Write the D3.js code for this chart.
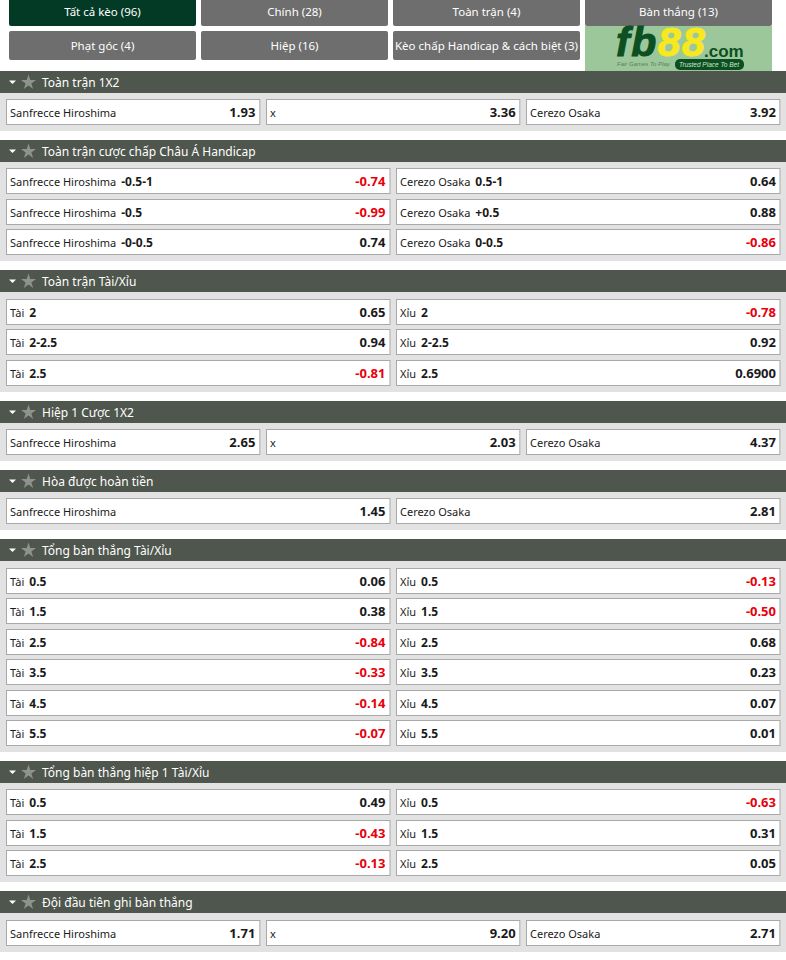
<!DOCTYPE html>
<html>
<head>
<meta charset="utf-8">
<script src="https://cdn.jsdelivr.net/npm/d3@7"></script>
<style>
  body { margin: 0; background: #fff; }
  svg { display: block; }
  text { font-family: "Noto Sans", sans-serif; }
  .logo-text { font-family: "Liberation Sans", sans-serif; }
</style>
</head>
<body>
<script>
const width = 786;
const height = 960;

// Tab buttons
const tabLabels = [
  "Tất cả kèo (96)", "Chính (28)", "Toàn trận (4)", "Bàn thắng (13)",
  "Phạt góc (4)", "Hiệp (16)", "Kèo chấp Handicap & cách biệt (3)"
];

// Section titles and number of columns
const sectionTitles = [
  "Toàn trận 1X2", "Toàn trận cược chấp Châu Á Handicap", "Toàn trận Tài/Xỉu",
  "Hiệp 1 Cược 1X2", "Hòa được hoàn tiền", "Tổng bàn thắng Tài/Xỉu",
  "Tổng bàn thắng hiệp 1 Tài/Xỉu", "Đội đầu tiên ghi bàn thắng"
];
const sectionColumns = [3, 2, 2, 3, 2, 2, 2, 3];

// Team names and over/under labels
const home = "Sanfrecce Hiroshima";
const away = "Cerezo Osaka";
const over = "Tài";
const under = "Xỉu";

// Each cell is [name, line, odds], read row by row
const fullTime1x2 = [[home, "", "1.93"], ["x", "", "3.36"], [away, "", "3.92"]];
const asianHandicap = [
  [home, "-0.5-1", "-0.74"], [away, "0.5-1", "0.64"],
  [home, "-0.5", "-0.99"], [away, "+0.5", "0.88"],
  [home, "-0-0.5", "0.74"], [away, "0-0.5", "-0.86"]
];
const fullTimeOverUnder = [
  [over, "2", "0.65"], [under, "2", "-0.78"],
  [over, "2-2.5", "0.94"], [under, "2-2.5", "0.92"],
  [over, "2.5", "-0.81"], [under, "2.5", "0.6900"]
];
const half1x2 = [[home, "", "2.65"], ["x", "", "2.03"], [away, "", "4.37"]];
const drawNoBet = [[home, "", "1.45"], [away, "", "2.81"]];
const totalGoals = [
  [over, "0.5", "0.06"], [under, "0.5", "-0.13"],
  [over, "1.5", "0.38"], [under, "1.5", "-0.50"],
  [over, "2.5", "-0.84"], [under, "2.5", "0.68"],
  [over, "3.5", "-0.33"], [under, "3.5", "0.23"],
  [over, "4.5", "-0.14"], [under, "4.5", "0.07"],
  [over, "5.5", "-0.07"], [under, "5.5", "0.01"]
];
const totalGoalsHalf = [
  [over, "0.5", "0.49"], [under, "0.5", "-0.63"],
  [over, "1.5", "-0.43"], [under, "1.5", "0.31"],
  [over, "2.5", "-0.13"], [under, "2.5", "0.05"]
];
const firstToScore = [[home, "", "1.71"], ["x", "", "9.20"], [away, "", "2.71"]];

const sectionCells = [
  fullTime1x2, asianHandicap, fullTimeOverUnder, half1x2,
  drawNoBet, totalGoals, totalGoalsHalf, firstToScore
];

const svg = d3.select("body").append("svg")
  .attr("width", width)
  .attr("height", height);

// Tabs
const tabX = d3.scaleBand().domain(d3.range(4)).range([9, 772]).paddingInner(5 / 192);
const tabY = d3.scaleOrdinal().domain([0, 1]).range([-4, 31]);
const tabH = d3.scaleOrdinal().domain([0, 1]).range([30, 29]);

const tabs = svg.selectAll("g.tab").data(tabLabels).join("g").attr("class", "tab");
tabs.append("rect")
  .attr("x", (d, i) => tabX(i % 4))
  .attr("y", (d, i) => tabY(Math.floor(i / 4)))
  .attr("width", tabX.bandwidth())
  .attr("height", (d, i) => tabH(Math.floor(i / 4)))
  .attr("rx", 2)
  .attr("fill", (d, i) => i === 0 ? "#033a25" : "#6e6e6e");
tabs.append("text")
  .attr("x", (d, i) => tabX(i % 4) + tabX.bandwidth() / 2)
  .attr("y", (d, i) => i < 4 ? 16 : 50)
  .attr("text-anchor", "middle")
  .attr("font-size", 11.5)
  .attr("fill", "#fff")
  .text(d => d);

// Logo in the last tab slot
const logo = svg.append("g").attr("transform", "translate(" + tabX(3) + ",26)");
logo.append("rect").attr("width", tabX.bandwidth()).attr("height", 45).attr("fill", "#9cc79a");
const logoText = logo.append("text")
  .attr("class", "logo-text")
  .attr("x", 31).attr("y", 30)
  .attr("font-weight", "bold")
  .attr("font-style", "italic")
  .attr("font-size", 41)
  .attr("letter-spacing", 1.5)
  .attr("stroke-width", 1);
logoText.append("tspan").attr("fill", "#0b4f22").attr("stroke", "#0b4f22").text("fb");
logoText.append("tspan").attr("fill", "#f7e81f").attr("stroke", "#f7e81f").text("88");
logo.append("text")
  .attr("class", "logo-text")
  .attr("x", 119).attr("y", 31)
  .attr("font-weight", "bold")
  .attr("font-size", 17)
  .attr("fill", "#0b4f22")
  .text(".com");
logo.append("text")
  .attr("class", "logo-text")
  .attr("x", 32).attr("y", 40)
  .attr("font-size", 6)
  .attr("font-style", "italic")
  .attr("fill", "#5d7f5d")
  .text("Fair Games To Play");
logo.append("rect")
  .attr("x", 90).attr("y", 33)
  .attr("width", 69).attr("height", 11)
  .attr("rx", 5)
  .attr("fill", "#0b4f22");
logo.append("text")
  .attr("class", "logo-text")
  .attr("x", 124).attr("y", 41)
  .attr("text-anchor", "middle")
  .attr("font-size", 6.5)
  .attr("font-style", "italic")
  .attr("fill", "#cfe6c8")
  .text("Trusted Place To Bet");

// Vertical layout of the sections
const rowStep = d3.scaleLinear().domain([0, 1]).range([0, 30.5]);
const headerH = 22;
const cellH = 26;
const star = d3.symbol().type(d3.symbolStar).size(70);

let sectionTop = 71;
sectionTitles.forEach((title, s) => {
  const cols = sectionColumns[s];
  const cells = sectionCells[s];
  const rows = cells.length / cols;
  const headerTop = Math.round(sectionTop - 0.2);
  const g = svg.append("g").attr("transform", "translate(0," + headerTop + ")");

  // Row position inside the section, snapped to whole pixels
  const rowY = r => Math.round(sectionTop + headerH + 6 + rowStep(r)) - headerTop;

  const colX = d3.scaleBand().domain(d3.range(cols)).range([6, 781])
    .paddingInner(cols === 3 ? 6 / 260 : 6 / 388);

  // Grey background and the header bar
  g.append("rect")
    .attr("y", headerH)
    .attr("width", width)
    .attr("height", rowY(rows - 1) + cellH + 6 - headerH)
    .attr("fill", "#e2e2e2");
  g.append("rect").attr("width", width).attr("height", headerH).attr("fill", "#4f564d");
  g.append("path").attr("d", "M9,9.5H16L12.5,13Z").attr("fill", "#fff");
  g.append("path")
    .attr("d", star)
    .attr("transform", "translate(28.5,11.5)")
    .attr("fill", "#8f938d");
  g.append("text")
    .attr("x", 42).attr("y", 16)
    .attr("font-size", 12)
    .attr("fill", "#fff")
    .text(title);

  // Odds cells
  const cell = g.selectAll("g.cell").data(cells).join("g").attr("class", "cell");
  cell.append("rect")
    .attr("x", (d, i) => Math.floor(colX(i % cols)) + 0.5)
    .attr("y", (d, i) => rowY(Math.floor(i / cols)) + 0.5)
    .attr("width", colX.bandwidth() - 1)
    .attr("height", cellH - 1)
    .attr("fill", "#fff")
    .attr("stroke", "#a9a9a9");
  const label = cell.append("text")
    .attr("x", (d, i) => Math.floor(colX(i % cols)) + 4)
    .attr("y", (d, i) => rowY(Math.floor(i / cols)) + 18)
    .attr("font-size", 11)
    .attr("fill", "#1a1a1a");
  label.append("tspan").text(d => d[0]);
  label.append("tspan")
    .attr("dx", 5)
    .attr("font-size", 12)
    .attr("font-weight", "bold")
    .text(d => d[1]);
  cell.append("text")
    .attr("x", (d, i) => colX(i % cols) + colX.bandwidth() - 5)
    .attr("y", (d, i) => rowY(Math.floor(i / cols)) + 18)
    .attr("text-anchor", "end")
    .attr("font-size", 13)
    .attr("font-weight", "bold")
    .attr("fill", d => d[2][0] === "-" ? "#e8000b" : "#1a1a1a")
    .text(d => d[2]);

  sectionTop += 69.3 + rowStep(rows - 1);
});
</script>
</body>
</html>
